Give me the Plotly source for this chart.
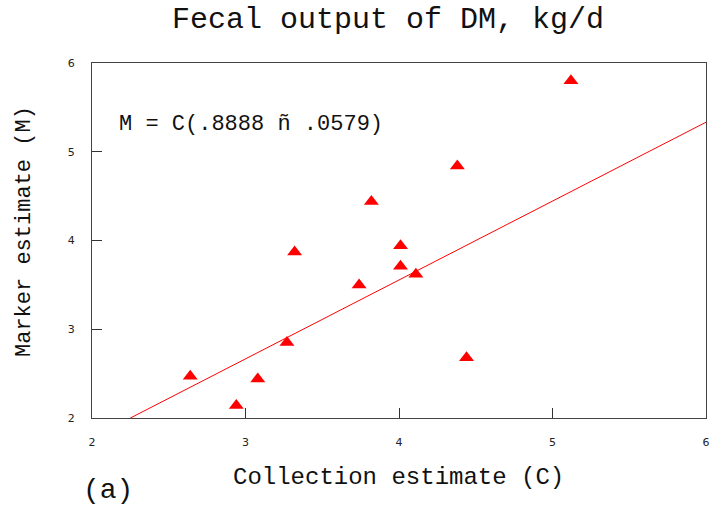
import plotly.graph_objects as go

collection = [2.64, 2.94, 3.08, 3.27, 3.32, 3.74, 3.82, 4.01, 4.01, 4.11, 4.38, 4.44, 5.12]
marker = [2.47, 2.14, 2.44, 2.85, 3.87, 3.50, 4.44, 3.94, 3.71, 3.62, 4.84, 2.68, 5.80]
slope = 0.8888
line_x = [2.25, 6.0]
line_y = [slope * v for v in line_x]

x_ticks = [2, 3, 4, 5, 6]
y_ticks = [2, 3, 4, 5, 6]

mono = "Liberation Mono, Courier New, monospace"

fig = go.Figure()
fig.add_trace(go.Scatter(x=line_x, y=line_y, mode="lines",
                         line=dict(color="#ff0000", width=1), showlegend=False))
fig.add_trace(go.Scatter(x=collection, y=marker, mode="markers",
                         marker=dict(symbol="triangle-up", size=13, color="#ff0000",
                                     line=dict(width=0)), showlegend=False))

fig.update_layout(
    width=712, height=505,
    margin=dict(l=92, r=6, t=63, b=87),
    paper_bgcolor="white", plot_bgcolor="white",
    showlegend=False,
    xaxis=dict(range=[2, 6], tickvals=x_ticks, ticks="inside", ticklen=10,
               tickcolor="#333", showgrid=False, zeroline=False, showline=True,
               linecolor="#444", linewidth=1, mirror=True, automargin=False,
               tickfont=dict(family="DejaVu Sans, sans-serif", size=11, color="#222"),
               ticklabelstandoff=14),
    yaxis=dict(range=[2, 6], tickvals=y_ticks, ticks="inside", ticklen=10,
               tickcolor="#333", showgrid=False, zeroline=False, showline=True,
               linecolor="#444", linewidth=1, mirror=True, automargin=False,
               tickfont=dict(family="DejaVu Sans, sans-serif", size=11, color="#222"),
               ticklabelstandoff=14),
    annotations=[
        dict(text="Fecal output of DM, kg/d", xref="paper", yref="paper",
             x=(388 - 92) / 614, y=1, yshift=63 - 20, showarrow=False,
             xanchor="center", yanchor="middle",
             font=dict(family=mono, size=30, color="#111")),
        dict(text="Collection estimate (C)", xref="paper", yref="paper",
             x=(398 - 92) / 614, y=0, yshift=-(477 - 418), showarrow=False,
             xanchor="center", yanchor="middle",
             font=dict(family=mono, size=24, color="#111")),
        dict(text="Marker estimate (M)", xref="paper", yref="paper",
             x=0, xshift=-(92 - 24), y=(418 - 232) / 355, showarrow=False,
             xanchor="center", yanchor="middle", textangle=-90,
             font=dict(family=mono, size=22, color="#111")),
        dict(text="(a)", xref="paper", yref="paper",
             x=0, xshift=(108 - 92), y=0, yshift=-(490 - 418), showarrow=False,
             xanchor="center", yanchor="middle",
             font=dict(family=mono, size=28, color="#111")),
        dict(text="M = C(.8888 ñ .0579)", xref="paper", yref="paper",
             x=(117 - 92) / 614, y=(418 - 124) / 355, showarrow=False,
             xanchor="left", yanchor="middle",
             font=dict(family=mono, size=22, color="#111")),
    ],
)

fig.write_html("out.html")
